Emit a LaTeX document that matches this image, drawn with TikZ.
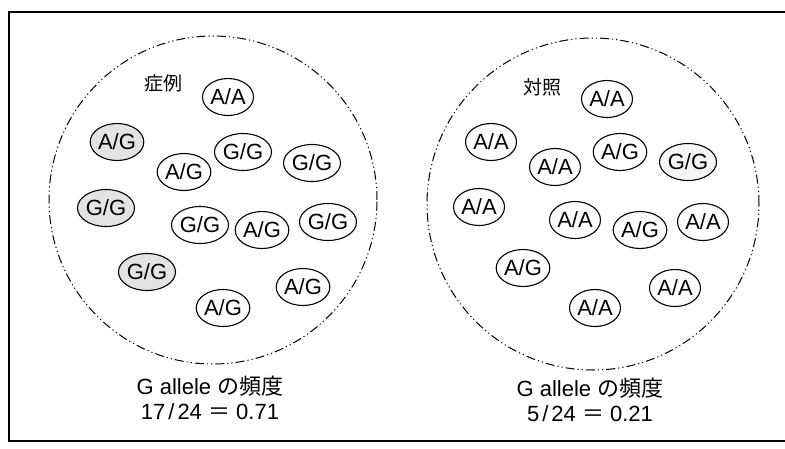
\documentclass[tikz,border=0pt]{standalone}
\usepackage{fontspec}
\setmainfont{Liberation Sans}
\newfontfamily\jp{Noto Sans CJK JP}
\usetikzlibrary{shapes.geometric}
\begin{document}
\begin{tikzpicture}[x=1pt,y=-1pt,
  geno/.style={ellipse,draw,line width=1.1pt,minimum width=51pt,minimum height=37pt,inner sep=0pt,font=\fontsize{22}{22}\selectfont},
  shaded/.style={geno,fill=black!11},
  faint/.style={geno,fill=black!4},
  group/.style={draw,line width=1pt,dash pattern=on 9pt off 3pt on 1.2pt off 3pt on 1.2pt off 3pt},
  label/.style={font=\jp\fontsize{19}{19}\selectfont},
  caption/.style={align=center,font=\fontsize{22}{25}\selectfont}]
\useasboundingbox (0,0) rectangle (785,448);
\draw[line width=1.2pt] (9,12) rectangle (795,441);
% left group
\node[group,circle,minimum size=328pt] (lc) at (213,200) {};
\node[label] (lt) at (163,83) {症例};
\node[geno] (l1) at (228,97) {A/A};
\node[shaded] (l2) at (117,142) {A/G};
\node[geno] (l3) at (243,152) {G/G};
\node[geno] (l4) at (312,163) {G/G};
\node[geno] (l5) at (184,172) {A/G};
\node[shaded] (l6) at (106,208) {G/G};
\node[geno] (l7) at (200,225) {G/G};
\node[geno] (l8) at (262,230) {A/G};
\node[geno] (l9) at (328,222) {G/G};
\node[shaded] (l10) at (147,272) {G/G};
\node[geno] (l11) at (303,287) {A/G};
\node[geno] (l12) at (223,308) {A/G};
\node[caption] (lcap) at (210,398) {G allele {\jp の頻度}\\17\kern3pt/\kern3pt24 {\jp ＝} 0.71};
% right group
\node[group,circle,minimum size=332pt] (rc) at (593,204) {};
\node[label] (rt) at (542,87) {対照};
\node[geno] (r1) at (607,99) {A/A};
\node[geno] (r2) at (491,142) {A/A};
\node[geno] (r3) at (620,152) {A/G};
\node[faint] (r4) at (688,162) {G/G};
\node[geno] (r5) at (555,167) {A/A};
\node[geno] (r6) at (479,207) {A/A};
\node[geno] (r7) at (575,220) {A/A};
\node[geno] (r8) at (640,230) {A/G};
\node[geno] (r9) at (703,222) {A/A};
\node[geno] (r10) at (523,268) {A/G};
\node[geno] (r11) at (675,288) {A/A};
\node[geno] (r12) at (595,308) {A/A};
\node[caption] (rcap) at (590,400) {G allele {\jp の頻度}\\5\kern3pt/\kern3pt24 {\jp ＝} 0.21};
\end{tikzpicture}
\end{document}
